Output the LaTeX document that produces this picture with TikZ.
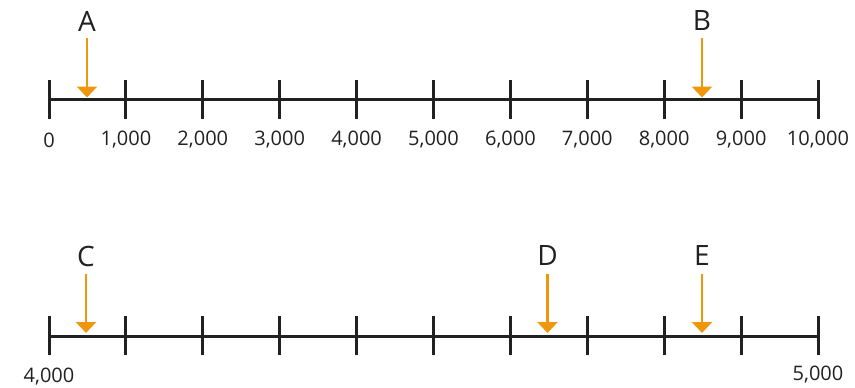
\documentclass[tikz,border=0pt]{standalone}
\usepackage{fontspec}
\setmainfont{Open Sans}
\usetikzlibrary{arrows.meta}
\definecolor{arrorange}{RGB}{240,150,10}
\definecolor{ink}{RGB}{33,33,33}
\tikzset{
  axisline/.style={draw=ink, line width=3pt},
  tickmark/.style={draw=ink, line width=3pt},
  pointer/.style={draw=arrorange, line width=2.6pt, -{Triangle[width=20pt,length=11pt]}, arrorange},
  letterlabel/.style={text=ink, font=\fontsize{28}{30}\selectfont, inner sep=0pt},
  numlabel/.style={text=ink, font=\fontsize{20}{22}\selectfont, inner sep=0pt}
}
\begin{document}
\begin{tikzpicture}[x=1pt,y=-1pt]
\useasboundingbox (0,0) rectangle (855,388);
% top number line
\coordinate (t0) at (49,99.5);
\coordinate (t10) at (818,99.5);
\draw[axisline] (t0) -- (t10);
\foreach \i in {0,...,10} {
  \draw[tickmark] (49+76.9*\i,79.5) -- (49+76.9*\i,118.5);
}
\foreach \i/\lab in {0/0,1/{1,000},2/{2,000},3/{3,000},4/{4,000},5/{5,000},6/{6,000},7/{7,000},8/{8,000},9/{9,000},10/{10,000}} {
  \node[numlabel] (n\i) at (49+76.9*\i,140) {\lab};
}
% top pointers
\node[letterlabel] (A) at (87,21) {A};
\coordinate (As) at (87,38);
\coordinate (Ae) at (87,97.5);
\draw[pointer] (As) -- (Ae);
\node[letterlabel] (B) at (702,21) {B};
\coordinate (Bs) at (702,38);
\coordinate (Be) at (702,97.5);
\draw[pointer] (Bs) -- (Be);
% bottom number line
\coordinate (b0) at (49,336.5);
\coordinate (b10) at (818,336.5);
\draw[axisline] (b0) -- (b10);
\foreach \i in {0,...,10} {
  \draw[tickmark] (49+76.9*\i,316) -- (49+76.9*\i,355);
}
\node[numlabel] (m0) at (49,377) {4,000};
\node[numlabel] (m10) at (818,375) {5,000};
% bottom pointers
\node[letterlabel] (C) at (86,256) {C};
\coordinate (Cs) at (86,274);
\coordinate (Ce) at (86,333);
\draw[pointer] (Cs) -- (Ce);
\node[letterlabel] (D) at (547.5,256) {D};
\coordinate (Ds) at (547.5,274);
\coordinate (De) at (547.5,333);
\draw[pointer] (Ds) -- (De);
\node[letterlabel] (E) at (702,256) {E};
\coordinate (Es) at (702,274);
\coordinate (Ee) at (702,333);
\draw[pointer] (Es) -- (Ee);
\end{tikzpicture}
\end{document}
